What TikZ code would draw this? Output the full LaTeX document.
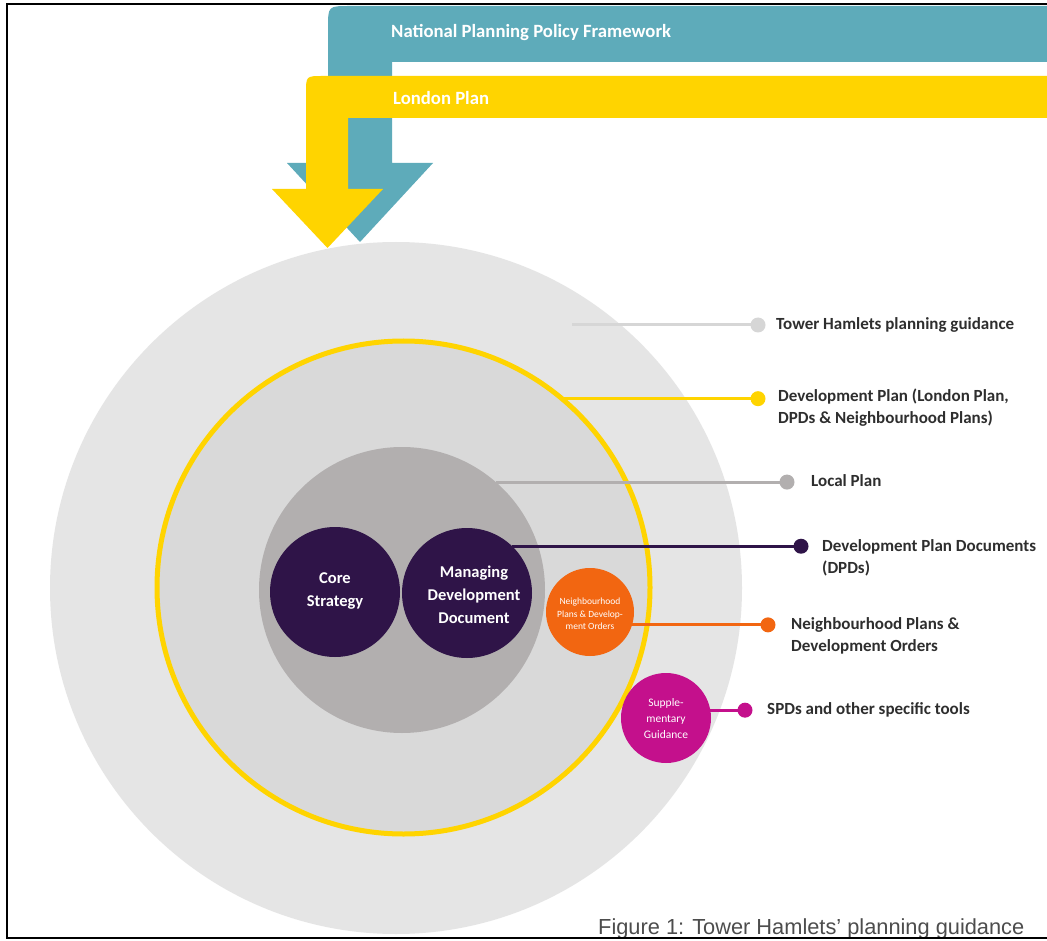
\documentclass[tikz,border=0pt]{standalone}
\usepackage{fontspec}
\setmainfont{Carlito}
\newfontfamily\capfont{Liberation Sans}
\definecolor{tealc}{HTML}{5EABBA}
\definecolor{yellowc}{HTML}{FFD400}
\definecolor{outerg}{HTML}{E5E5E5}
\definecolor{innerg}{HTML}{D9D9D9}
\definecolor{localg}{HTML}{B2AFAF}
\definecolor{purplec}{HTML}{2F1448}
\definecolor{orangec}{HTML}{F26611}
\definecolor{magentac}{HTML}{C4108C}
\definecolor{labelc}{HTML}{2E2E2E}
\definecolor{thline}{HTML}{D6D6D6}
\definecolor{capc}{HTML}{4D4D4D}
\begin{document}
\begin{tikzpicture}[x=1pt,y=-1pt,
  disc/.style={circle,inner sep=0pt,outer sep=0pt},
  dot/.style={circle,inner sep=0pt,outer sep=0pt,minimum size=15pt},
  conn/.style={line width=3pt},
  lbl/.style={anchor=west,align=left,text=labelc,inner sep=0pt,font=\fontsize{17}{22}\selectfont\bfseries},
  intext/.style={align=center,text=white,inner sep=0pt,font=\fontsize{16.5}{23}\selectfont\bfseries},
  bandtext/.style={anchor=base west,text=white,inner sep=0pt,font=\fontsize{18.7}{22}\selectfont\bfseries}]
\useasboundingbox (0,0) rectangle (1047,941);
\fill[white] (0,0) rectangle (1047,941);

% circles
\node[disc,fill=outerg,minimum size=692pt] (outer) at (396,588) {};
\node[disc,fill=innerg,draw=yellowc,line width=5pt,minimum size=493pt] (ring) at (403.5,587.5) {};
\node[disc,fill=localg,minimum size=286pt] (local) at (402,590) {};
\node[disc,fill=purplec,minimum size=130pt] (core) at (335,592) {};
\node[disc,fill=purplec,minimum size=130pt] (mdd) at (467,593) {};
\node[disc,fill=orangec,minimum size=88pt] (neigh) at (590,612) {};
\node[disc,fill=magentac,minimum size=90pt] (supp) at (666,718) {};

\node[intext] (coret) at (335,591) {Core\\Strategy};
\node[intext] (mddt) at (474,595) {Managing\\Development\\Document};
\node[align=center,text=white,inner sep=0pt,font=\fontsize{9.5}{12.5}\selectfont] (neight) at (590,614) {Neighbourhood\\Plans \& Develop-\\ment Orders};
\node[align=center,text=white,inner sep=0pt,font=\fontsize{11.5}{16}\selectfont] (suppt) at (666,719) {Supple-\\mentary\\Guidance};

% connectors
\coordinate (thStart) at (572,325);
\coordinate (xTH) at (758,0);
\coordinate (xDP) at (758,0);
\coordinate (xLP) at (787,0);
\coordinate (xDPD) at (801,0);
\coordinate (xNP) at (768,0);
\coordinate (xSPD) at (745,0);

\draw[conn,thline] (thStart) -- (thStart -| xTH) node[dot,fill=thline] (dTH) {};
\draw[conn,yellowc] (ring.50.6) -- (ring.50.6 -| xDP) node[dot,fill=yellowc] (dDP) {};
\draw[conn,localg] (local.49.7) -- (local.49.7 -| xLP) node[dot,fill=localg] (dLP) {};
\draw[conn,purplec] (mdd.46.3) -- (mdd.46.3 -| xDPD) node[dot,fill=purplec] (dDPD) {};
\draw[conn,orangec] (neigh.-17.2) -- (neigh.-17.2 -| xNP) node[dot,fill=orangec] (dNP) {};
\draw[conn,magentac] (supp.10.2) -- (supp.10.2 -| xSPD) node[dot,fill=magentac] (dSPD) {};

\node[lbl] (lTH) at (776,325) {Tower Hamlets planning guidance};
\node[lbl] (lDP) at (778,408) {Development Plan (London Plan,\\DPDs \& Neighbourhood Plans)};
\node[lbl] (lLP) at (811,481) {Local Plan};
\node[lbl] (lDPD) at (822,558) {Development Plan Documents\\(DPDs)};
\node[lbl] (lNP) at (791,636) {Neighbourhood Plans \&\\Development Orders};
\node[lbl] (lSPD) at (767,710) {SPDs and other specific tools};

% arrows
\fill[tealc] (1047,6) -- (350,6) .. controls (328,6) .. (328,28) -- (328,163) -- (287,163) -- (360,242) -- (433,163) -- (392,163) -- (392,62) -- (1047,62) -- cycle;
\fill[yellowc] (1047,76) -- (323,76) .. controls (306,76) .. (306,93) -- (306,189) -- (272,189) -- (327.5,248) -- (383,189) -- (348,189) -- (348,118) -- (1047,118) -- cycle;
\node[bandtext] (nppf) at (391,38) {National Planning Policy Framework};
\node[bandtext] (lp) at (393,105) {London Plan};

% caption
\node[anchor=base west,inner sep=0pt,text=capc,font=\capfont\fontsize{21.8}{24}\selectfont] (cap) at (598,934) {Figure 1: Tower Hamlets’ planning guidance};

% frame
\draw[line width=2pt,black] (1047,4) -- (7,4) -- (7,938) -- (1047,938);
\end{tikzpicture}
\end{document}
